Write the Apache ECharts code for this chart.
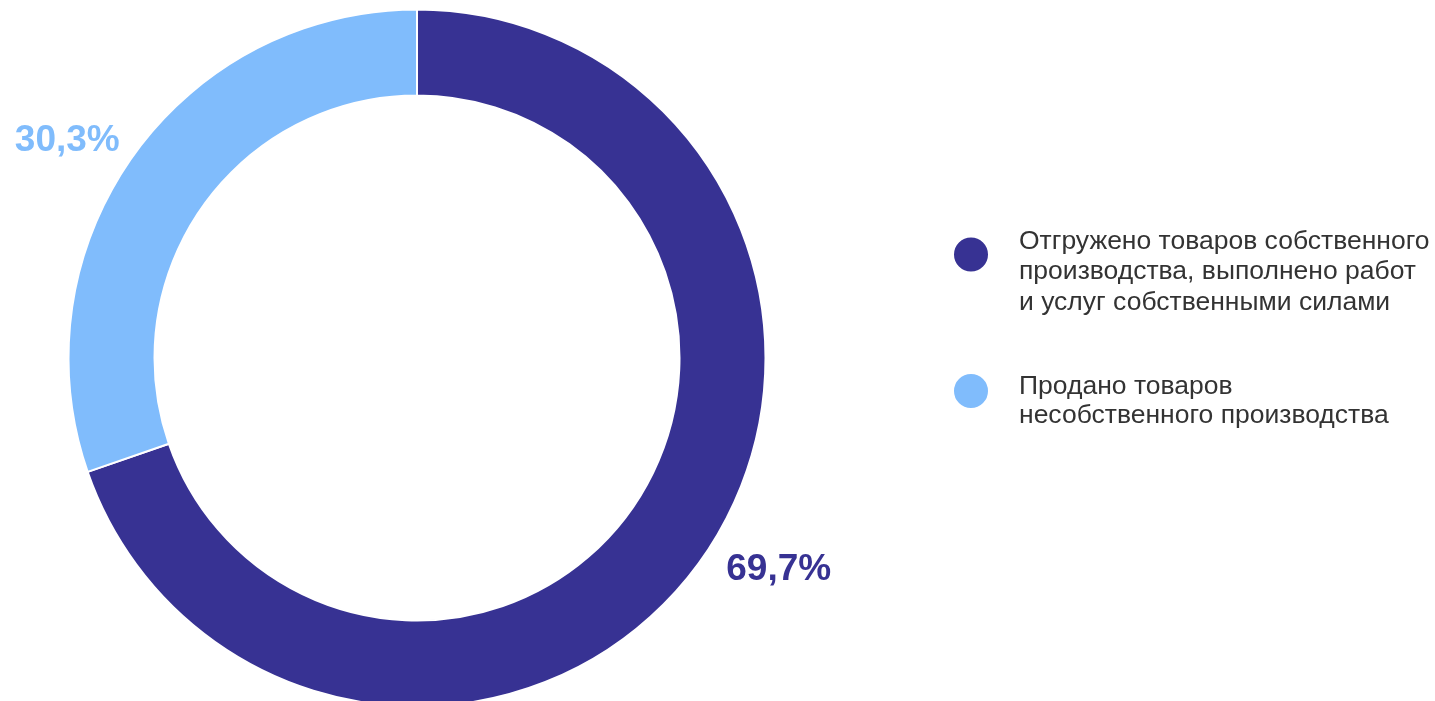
<!DOCTYPE html>
<html>
<head>
<meta charset="utf-8">
<script src="https://cdn.jsdelivr.net/npm/echarts@6/dist/echarts.min.js"></script>
<style>
html,body{margin:0;padding:0;background:#fff;}
#chart{width:1435px;height:701px;}
</style>
</head>
<body>
<div id="chart"></div>
<script>
const categories = [
  'Отгружено товаров собственного\nпроизводства, выполнено работ\nи услуг собственными силами',
  'Продано товаров\nнесобственного производства'
];
const values = [69.7, 30.3];
const colors = ['#373293', '#80bcfc'];

const chart = echarts.init(document.getElementById('chart'));
const font = 'Liberation Sans';

function legendFor(idx, top, gap, lh) {
  return {
    orient: 'vertical',
    left: 952,
    top: top,
    padding: 0,
    icon: 'circle',
    itemWidth: 36,
    itemHeight: 36,
    selectedMode: false,
    data: [categories[idx]],
    formatter: name => '{g| }\n' + name.split('\n').map(l => '{t|' + l + '}').join('\n'),
    textStyle: {
      fontFamily: font,
      fontSize: 26.5,
      color: '#333333',
      padding: [0, 0, 0, 25],
      rich: {
        g: { fontSize: 1, lineHeight: gap },
        t: { fontFamily: font, fontSize: 26.5, lineHeight: lh, color: '#333333' }
      }
    }
  };
}

chart.setOption({
  animation: false,
  textStyle: { fontFamily: font },
  legend: [
    legendFor(0, 208.25, 35, 30.5),
    legendFor(1, 361.5, 21, 29)
  ],
  series: [{
    type: 'pie',
    center: [417, 358],
    radius: [262.5, 348.5],
    startAngle: 90,
    clockwise: true,
    avoidLabelOverlap: false,
    emphasis: { disabled: true },
    itemStyle: { borderColor: '#ffffff', borderWidth: 2 },
    label: {
      show: true,
      position: 'outside',
      fontFamily: font,
      fontSize: 37,
      fontWeight: 'bold',
      distanceToLabelLine: 5,
      formatter: p => String(p.value).replace('.', ',') + '%'
    },
    labelLine: { show: false, length: 14, length2: 9 },
    labelLayout: p => p.dataIndex === 1 ? { dx: 12, dy: -7 } : { dy: 1 },
    data: categories.map((c, i) => ({
      name: c,
      value: values[i],
      itemStyle: { color: colors[i] },
      label: { color: colors[i] }
    }))
  }]
});
</script>
</body>
</html>
